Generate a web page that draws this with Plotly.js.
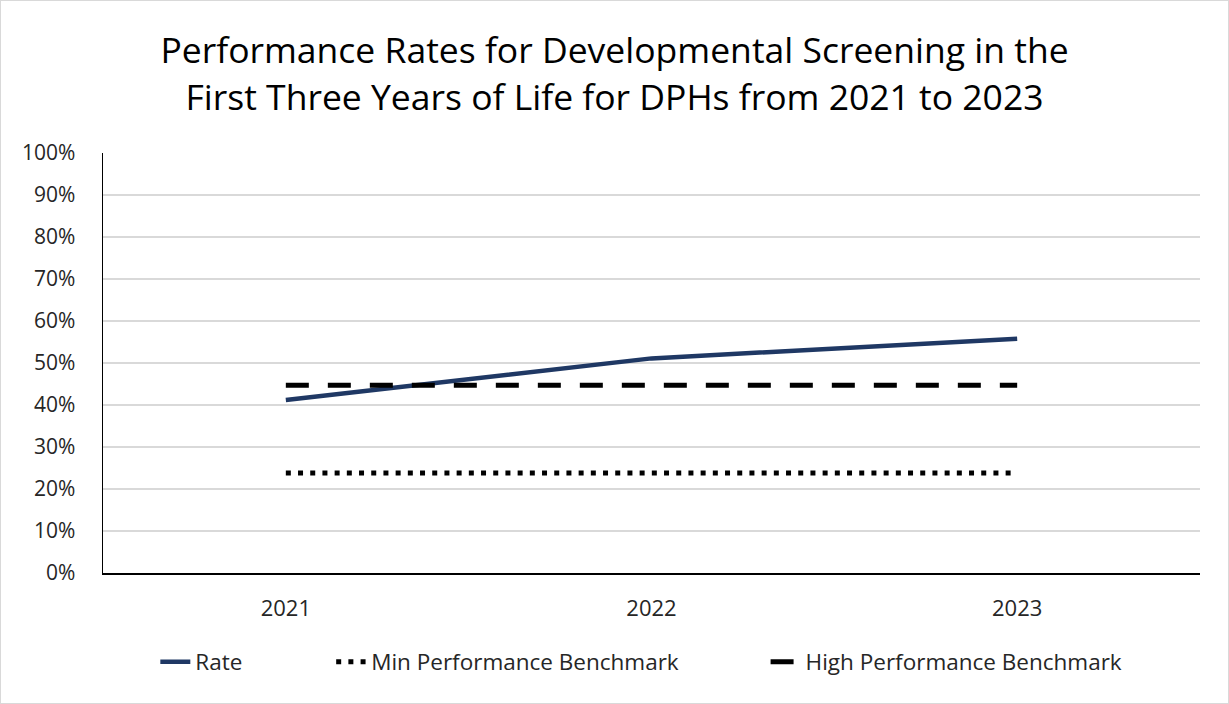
<!DOCTYPE html>
<html>
<head>
<meta charset="utf-8">
<script src="https://cdn.plot.ly/plotly-3.0.1.min.js"></script>
<style>
html,body{margin:0;padding:0;background:#fff;}
#frame{width:1229px;height:704px;box-sizing:border-box;border:1px solid #d9d9d9;overflow:hidden;}
#chart{width:1227px;height:702px;}
</style>
</head>
<body>
<div id="frame"><div id="chart"></div></div>
<script>
const years = ['2021', '2022', '2023'];
const rate = [0.412, 0.511, 0.558];
const minBenchmark = [0.238, 0.238, 0.238];
const highBenchmark = [0.447, 0.447, 0.447];
const yTickVals = [0, 0.1, 0.2, 0.3, 0.4, 0.5, 0.6, 0.7, 0.8, 0.9, 1.0];
const yTickText = ['0%', '10%', '20%', '30%', '40%', '50%', '60%', '70%', '80%', '90%', '100%'];

const FONT = 'Open Sans, Noto Sans, sans-serif';

const traces = [
  {x: years, y: rate, name: 'Rate', type: 'scatter', mode: 'lines',
   line: {color: '#1f3864', width: 4.5}, legend: 'legend'},
  {x: years, y: minBenchmark, name: 'Min Performance Benchmark', type: 'scatter', mode: 'lines',
   line: {color: '#000000', width: 5, dash: '5px,7.2px'}, legend: 'legend2'},
  {x: years, y: highBenchmark, name: 'High Performance Benchmark', type: 'scatter', mode: 'lines',
   line: {color: '#000000', width: 5, dash: '23px,19px'}, legend: 'legend3'}
];

const legendBase = {orientation: 'h', yanchor: 'middle', xanchor: 'left', y: -0.212,
  font: {family: FONT, size: 22.5, color: '#262626'}, bgcolor: 'rgba(0,0,0,0)', itemwidth: 30};

const layout = {
  width: 1227, height: 702,
  paper_bgcolor: '#ffffff', plot_bgcolor: '#ffffff',
  margin: {l: 102, r: 28, t: 152, b: 130},
  title: {text: 'Performance Rates for Developmental Screening in the<br>First Three Years of Life for DPHs from 2021 to 2023',
    font: {family: FONT, size: 35.5, color: '#000000'}, x: 0.5, xanchor: 'center', yref: 'container', y: 0.911, yanchor: 'top'},
  xaxis: {type: 'category', range: [-0.5, 2.5], showgrid: false, showline: true, linecolor: '#000000', linewidth: 1.5,
    ticks: '', tickfont: {family: FONT, size: 22, color: '#262626'}, ticklabelstandoff: 15, zeroline: false, fixedrange: true},
  yaxis: {range: [0, 1], tickvals: yTickVals, ticktext: yTickText, showgrid: true, gridcolor: '#d9d9d9', gridwidth: 1.5,
    showline: true, linecolor: '#000000', linewidth: 1.5, ticks: '', zeroline: false,
    tickfont: {family: FONT, size: 21, color: '#262626'}, ticklabelstandoff: 22, fixedrange: true},
  showlegend: true,
  legend: Object.assign({}, legendBase, {x: 0.0477}),
  legend2: Object.assign({}, legendBase, {x: 0.208}),
  legend3: Object.assign({}, legendBase, {x: 0.604})
};

Plotly.newPlot('chart', traces, layout, {displayModeBar: false, staticPlot: true});
</script>
</body>
</html>
